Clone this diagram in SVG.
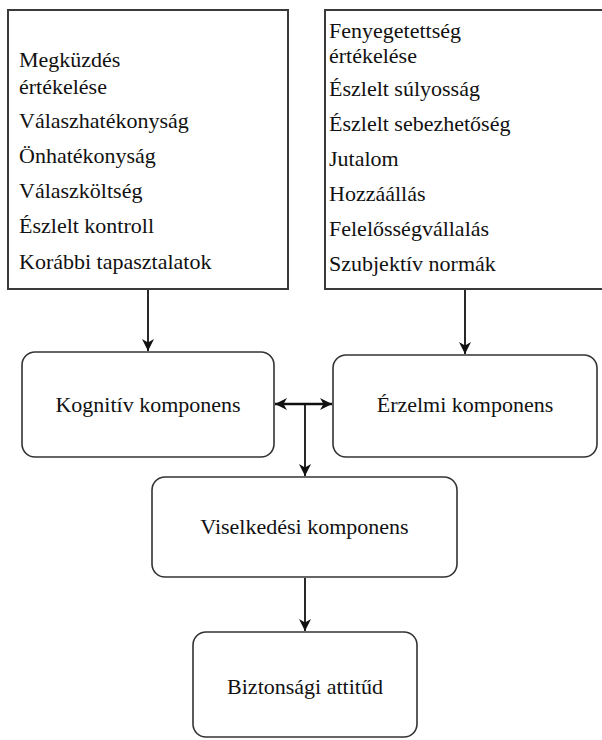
<svg xmlns="http://www.w3.org/2000/svg" width="602" height="740" viewBox="0 0 602 740">
  <style>
    .list { fill: #ffffff; stroke: #3a3a3a; stroke-width: 2; }
    .node { fill: #ffffff; stroke: #333333; stroke-width: 1.6; }
    .edge { fill: none; stroke: #111111; stroke-width: 1.8; }
    .edge2 { fill: none; stroke: #111111; stroke-width: 2.6; }
  </style>
  <defs>
    <marker id="arr" markerUnits="userSpaceOnUse" markerWidth="12" markerHeight="14" refX="12" refY="7" orient="auto-start-reverse" viewBox="0 0 12 14">
      <path d="M0,1 L12,7 L0,13 L3.5,7 z" fill="#111111"/>
    </marker>
  </defs>
  <rect x="0" y="0" width="602" height="740" fill="#ffffff"/>

  <g id="cognitive-factors">
    <rect class="list" x="8" y="10" width="280" height="279"/>
    <text x="19" y="67" font-family="Liberation Serif" font-size="22" fill="#111">Megküzdés</text>
    <text x="19" y="94" font-family="Liberation Serif" font-size="22" fill="#111">értékelése</text>
    <text x="19" y="128" font-family="Liberation Serif" font-size="22" fill="#111">Válaszhatékonyság</text>
    <text x="19" y="163" font-family="Liberation Serif" font-size="22" fill="#111">Önhatékonyság</text>
    <text x="19" y="198" font-family="Liberation Serif" font-size="22" fill="#111">Válaszköltség</text>
    <text x="19" y="233" font-family="Liberation Serif" font-size="22" fill="#111">Észlelt kontroll</text>
    <text x="19" y="269" font-family="Liberation Serif" font-size="22" fill="#111">Korábbi tapasztalatok</text>
  </g>

  <g id="emotional-factors">
    <rect class="list" x="325" y="10" width="290" height="279"/>
    <text x="329" y="38" font-family="Liberation Serif" font-size="22" fill="#111">Fenyegetettség</text>
    <text x="329" y="63" font-family="Liberation Serif" font-size="22" fill="#111">értékelése</text>
    <text x="329" y="96" font-family="Liberation Serif" font-size="22" fill="#111">Észlelt súlyosság</text>
    <text x="329" y="131" font-family="Liberation Serif" font-size="22" fill="#111">Észlelt sebezhetőség</text>
    <text x="329" y="166" font-family="Liberation Serif" font-size="22" fill="#111">Jutalom</text>
    <text x="329" y="201" font-family="Liberation Serif" font-size="22" fill="#111">Hozzáállás</text>
    <text x="329" y="236" font-family="Liberation Serif" font-size="22" fill="#111">Felelősségvállalás</text>
    <text x="329" y="271" font-family="Liberation Serif" font-size="22" fill="#111">Szubjektív normák</text>
  </g>

  <g id="kognitiv">
    <rect class="node" x="22" y="352" width="252" height="105" rx="13" ry="13"/>
    <text x="148" y="412" text-anchor="middle" font-family="Liberation Serif" font-size="22" fill="#111">Kognitív komponens</text>
  </g>

  <g id="erzelmi">
    <rect class="node" x="333" y="355" width="264" height="102" rx="13" ry="13"/>
    <text x="465" y="412" text-anchor="middle" font-family="Liberation Serif" font-size="22" fill="#111">Érzelmi komponens</text>
  </g>

  <g id="viselkedesi">
    <rect class="node" x="152" y="477" width="305" height="100" rx="13" ry="13"/>
    <text x="304.5" y="534" text-anchor="middle" font-family="Liberation Serif" font-size="22" fill="#111">Viselkedési komponens</text>
  </g>

  <g id="biztonsagi">
    <rect class="node" x="193" y="632" width="224" height="105" rx="13" ry="13"/>
    <text x="305" y="694" text-anchor="middle" font-family="Liberation Serif" font-size="22" fill="#111">Biztonsági attitűd</text>
  </g>

  <g id="connectors">
    <line class="edge" x1="148" y1="290" x2="148" y2="351" marker-end="url(#arr)"/>
    <line class="edge" x1="465" y1="290" x2="465" y2="354" marker-end="url(#arr)"/>
    <line class="edge2" x1="275" y1="404" x2="332" y2="404" marker-start="url(#arr)" marker-end="url(#arr)"/>
    <line class="edge" x1="305" y1="404" x2="305" y2="476" marker-end="url(#arr)"/>
    <line class="edge" x1="305" y1="578" x2="305" y2="631" marker-end="url(#arr)"/>
  </g>
</svg>
